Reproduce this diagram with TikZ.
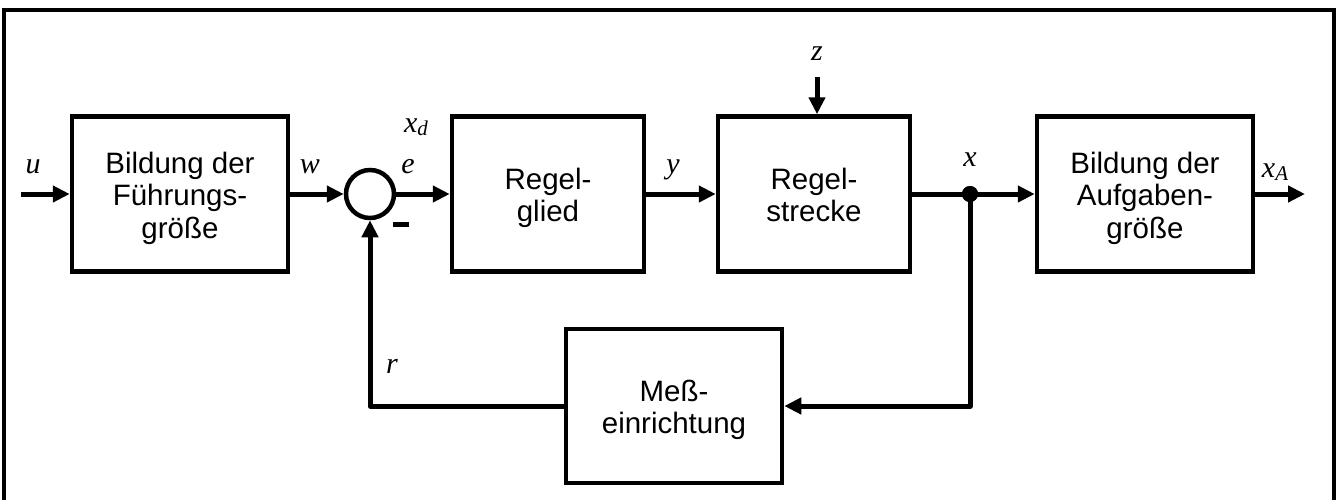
\documentclass[tikz,border=0pt]{standalone}
\usepackage{fontspec}
\setmainfont{Liberation Sans}
\newfontfamily\tms{Liberation Serif}
\usetikzlibrary{arrows.meta,shadows}
% block text, set a little below the block centre
\newcommand\blocktext[1]{\raisebox{-5pt}[\height][\depth]{\begin{tabular}{@{}c@{}}#1\end{tabular}}}
\begin{document}
\begin{tikzpicture}[x=1pt,y=-1pt,
  block/.style={draw,line width=4.5pt,fill=white,align=center,
    font=\fontsize{29.5}{32.5}\selectfont,
    drop shadow={shadow xshift=1.8pt,shadow yshift=-1.8pt,fill=black,opacity=1}},
  sig/.style={line width=5pt,-{Triangle[length=17pt,width=16pt]}},
  wire/.style={line width=5pt},
  lbl/.style={font=\fontsize{30}{30}\selectfont\tms\itshape,inner sep=0pt}]
\useasboundingbox (0,0) rectangle (1339,499);
% outer frame
\draw[line width=4pt] (4,10) rectangle (1334,520);

% blocks
\node[block,minimum width=216pt,minimum height=155pt] (fg) at (180,194)
  {\blocktext{Bildung der\\Führungs-\\größe}};
\node[block,minimum width=192pt,minimum height=155pt] (rg) at (548,194)
  {\blocktext{Regel-\\glied}};
\node[block,minimum width=192pt,minimum height=155pt] (rs) at (814,194)
  {\blocktext{Regel-\\strecke}};
\node[block,minimum width=216pt,minimum height=155pt] (ag) at (1145,194)
  {\blocktext{Bildung der\\Aufgaben-\\größe}};
\node[block,minimum width=216pt,minimum height=154pt] (me) at (674,406)
  {\blocktext{Meß-\\einrichtung}};

% summing point and branch point
\node[draw,circle,line width=4.5pt,fill=white,minimum size=48pt,inner sep=0pt] (sum) at (370,194) {};
\node[circle,fill=black,minimum size=16pt,inner sep=0pt] (br) at (970,194) {};

% free ends
\coordinate (uin) at (21,194);
\coordinate (xout) at (1305,194);
\coordinate (zin) at (817,77);
\coordinate (fbr) at (970,406);
\coordinate (fbl) at (370,406);

% signal lines
\draw[sig] (uin) -- (fg.west);
\draw[sig] (fg.east) -- (sum.west);
\draw[sig] (sum.east) -- (rg.west);
\draw[sig] (rg.east) -- (rs.west);
\draw[wire] (rs.east) -- (br.center);
\draw[sig] (br.center) -- (ag.west);
\draw[sig] (ag.east) -- (xout);
\draw[sig] (zin) -- (zin |- rs.north);
\draw[sig,line join=round] (br.center) -- (fbr) -- (me.east);
\draw[sig,line join=round] (me.west) -- (fbl) -- (sum.south);
\node[circle,fill=black,minimum size=16pt,inner sep=0pt] at (br) {};

% signal names
\node[lbl] (lu) at (33,167) {u};
\node[lbl] (lw) at (310,167) {w};
\node[lbl] (lxd) at (416,127) {x\raisebox{-0.25ex}{\fontsize{21}{21}\selectfont d}};
\node[lbl] (le) at (408,167) {e};
\node[inner sep=0pt] (minus) at (401,224) {\rule{16pt}{5pt}};
\node[lbl] (ly) at (673,170) {y};
\node[lbl] (lz) at (817,54) {z};
\node[lbl] (lx) at (970,160) {x};
\node[lbl] (lxa) at (1275,172) {x\raisebox{-0.25ex}{\fontsize{21}{21}\selectfont A}};
\node[lbl] (lr) at (392,366) {r};
\end{tikzpicture}
\end{document}
